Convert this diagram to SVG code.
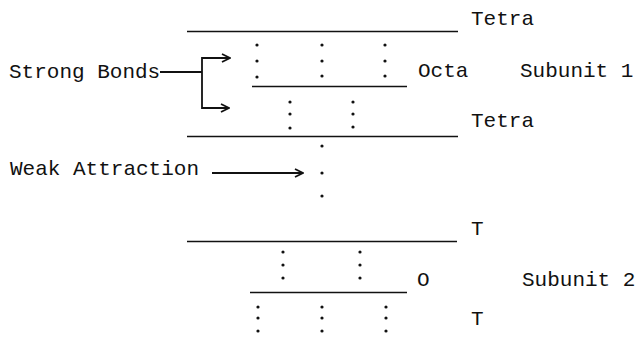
<svg xmlns="http://www.w3.org/2000/svg" width="635" height="342" viewBox="0 0 635 342">
<style>
.t{font-family:"Liberation Mono","Courier New",monospace;font-size:21px;fill:#111}
.ln{stroke:#111;stroke-width:1.6;fill:none}
.ar{stroke:#111;stroke-width:1.8;fill:none}
.d{fill:#111}
</style>
<defs>
<marker id="chev" viewBox="0 0 10 10" refX="9" refY="5" markerWidth="10" markerHeight="10" markerUnits="userSpaceOnUse" orient="auto">
<path d="M1,1 L9,5 L1,9" fill="none" stroke="#111" stroke-width="1.8"/>
</marker>
<circle id="dot" r="1.6" class="d"/>
</defs>
<rect width="635" height="342" fill="#fff"/>

<g id="tetra1">
<line class="ln" x1="187" y1="31.5" x2="458" y2="31.5"/>
<text class="t" x="471" y="25">Tetra</text>
</g>
<g id="octa1">
<line class="ln" x1="252" y1="86.5" x2="407" y2="86.5"/>
<text class="t" x="418" y="77">Octa</text>
<use href="#dot" x="257" y="45"/><use href="#dot" x="257" y="61"/><use href="#dot" x="257" y="77"/>
<use href="#dot" x="322" y="45"/><use href="#dot" x="322" y="61"/><use href="#dot" x="322" y="76"/>
<use href="#dot" x="385" y="45"/><use href="#dot" x="385" y="61"/><use href="#dot" x="385" y="76"/>
</g>
<g id="tetra2">
<line class="ln" x1="187" y1="136.5" x2="458" y2="136.5"/>
<text class="t" x="471" y="127">Tetra</text>
<use href="#dot" x="290" y="102"/><use href="#dot" x="290" y="114"/><use href="#dot" x="290" y="128"/>
<use href="#dot" x="353" y="102"/><use href="#dot" x="353" y="114"/><use href="#dot" x="353" y="127"/>
</g>
<g id="subunit1"><text class="t" x="520" y="77">Subunit 1</text></g>

<g id="weak">
<use href="#dot" x="322" y="146"/><use href="#dot" x="322" y="173"/><use href="#dot" x="322" y="196"/>
</g>

<g id="t3">
<line class="ln" x1="187" y1="241.5" x2="457" y2="241.5"/>
<text class="t" x="471" y="235">T</text>
<use href="#dot" x="283" y="252"/><use href="#dot" x="283" y="265"/><use href="#dot" x="283" y="278"/>
<use href="#dot" x="360" y="252"/><use href="#dot" x="360" y="265"/><use href="#dot" x="360" y="278"/>
</g>
<g id="o2">
<line class="ln" x1="250" y1="292.5" x2="407" y2="292.5"/>
<text class="t" x="417" y="286">O</text>
</g>
<g id="t4">
<text class="t" x="471" y="325">T</text>
<use href="#dot" x="258" y="307"/><use href="#dot" x="258" y="318"/><use href="#dot" x="258" y="331"/>
<use href="#dot" x="322" y="307"/><use href="#dot" x="322" y="318"/><use href="#dot" x="322" y="331"/>
<use href="#dot" x="386" y="307"/><use href="#dot" x="386" y="318"/><use href="#dot" x="386" y="331"/>
</g>
<g id="subunit2"><text class="t" x="522" y="286">Subunit 2</text></g>

<g id="label-strong"><text class="t" x="9" y="78">Strong Bonds</text></g>
<g id="label-weak"><text class="t" x="10" y="175">Weak Attraction</text></g>

<g id="connectors">
<path class="ar" d="M160,72 H202"/>
<path class="ar" d="M202,72 V58 H230" marker-end="url(#chev)"/>
<path class="ar" d="M202,72 V108 H229" marker-end="url(#chev)"/>
<path class="ar" d="M212,173 H303" marker-end="url(#chev)"/>
</g>
</svg>
